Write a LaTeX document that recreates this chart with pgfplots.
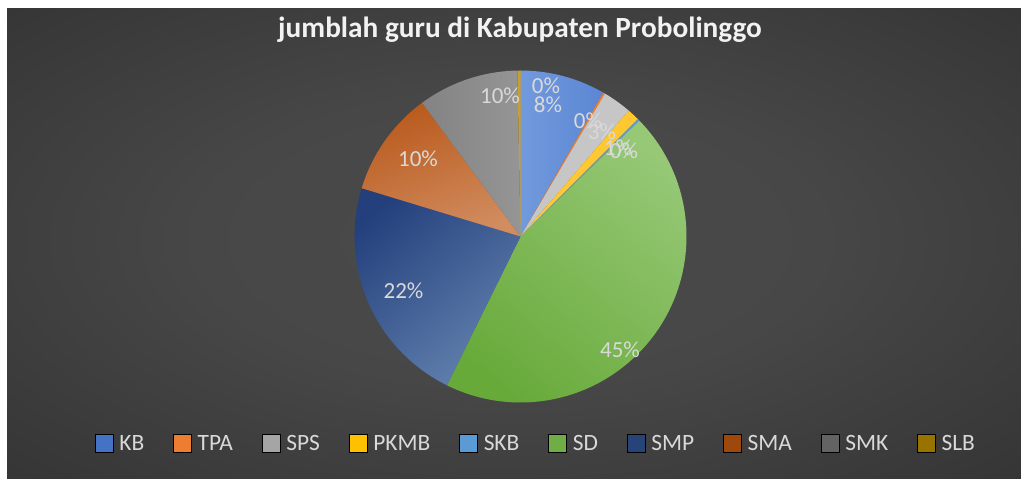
\documentclass[border=0pt]{standalone}
\usepackage{pgfplots}
\pgfplotsset{compat=1.18}
\usepackage{pgfplotstable}
\usepackage{fontspec}
\setmainfont{Carlito}

\definecolor{bgin}{HTML}{4A4A4A}
\definecolor{bgout}{HTML}{282828}
\pgfdeclareradialshading{bgshade}{\pgfpoint{0bp}{0bp}}{color(0bp)=(bgin); color(15bp)=(bgin!92!bgout); color(50bp)=(bgout); color(100bp)=(bgout)}

\definecolor{labc}{HTML}{D9D9D9}
\definecolor{titlec}{HTML}{F2F2F2}
% legend (base) colours
\definecolor{legKB}{HTML}{4472C4}
\definecolor{legTPA}{HTML}{ED7D31}
\definecolor{legSPS}{HTML}{A5A5A5}
\definecolor{legPKMB}{HTML}{FFC000}
\definecolor{legSKB}{HTML}{5B9BD5}
\definecolor{legSD}{HTML}{70AD47}
\definecolor{legSMP}{HTML}{264478}
\definecolor{legSMA}{HTML}{9E480E}
\definecolor{legSMK}{HTML}{636363}
\definecolor{legSLB}{HTML}{997300}
% slice colours
\definecolor{kbL}{HTML}{729ADD}
\definecolor{kbR}{HTML}{5A86D3}
\definecolor{spsC}{HTML}{C6C6C6}
\definecolor{pkC}{HTML}{FFC830}
\definecolor{sdL}{HTML}{96C876}
\definecolor{sdD}{HTML}{68AA3A}
\definecolor{smpD}{HTML}{233F7C}
\definecolor{smpL}{HTML}{6180AD}
\definecolor{smaD}{HTML}{B95A1D}
\definecolor{smaL}{HTML}{D18C5F}
\definecolor{smkL}{HTML}{959595}
\definecolor{smkD}{HTML}{838383}
\definecolor{slbC}{HTML}{C9A02E}

\tikzset{
  s0/.style={left color=kbL, right color=kbR},
  s1/.style={fill=legTPA},
  s2/.style={fill=spsC},
  s3/.style={fill=pkC},
  s4/.style={fill=legSKB},
  s5/.style={top color=sdL, middle color=sdL, bottom color=sdD, shading angle=-40},
  s6/.style={top color=smpD, middle color=smpL!90!smpD, bottom color=smpL, shading angle=40},
  s7/.style={top color=smaD, bottom color=smaL, shading angle=20},
  s8/.style={left color=smkD, right color=smkL},
  s9/.style={fill=slbC},
  lab/.style={font=\fontsize{23}{27}\selectfont, text=labc, inner sep=0pt},
}

\pgfplotstableread{
cat value
KB 8.3
TPA 0.2
SPS 2.8
PKMB 1.2
SKB 0.2
SD 44.6
SMP 22.4
SMA 10.2
SMK 9.8
SLB 0.3
}\pietable

\begin{document}
\begin{tikzpicture}
\fill[bgout] (0pt,-40pt) rectangle (1070pt,479pt);
\shade[shading=bgshade] (0pt,0pt) rectangle (1021pt,479pt);
\fill[white] (0pt,471pt) rectangle (1070pt,479pt);
\fill[white] (0pt,-40pt) rectangle (7pt,479pt);
\begin{axis}[
  x=1pt, y=1pt,
  xmin=0, xmax=1021, ymin=0, ymax=479,
  hide axis, clip=false,
  legend columns=10,
  legend cell align=left,
  legend image code/.code={\fill[#1] (0pt,-9pt) rectangle (18pt,9pt);},
  legend style={draw=none, fill=none, at={(95/1021,35.5/479)}, anchor=west,
    inner sep=0pt, outer sep=0pt,
    font=\fontsize{23.4}{28}\selectfont, text=labc,
    nodes={inner sep=0pt},
    /tikz/every odd column/.append style={column sep=6pt},
    /tikz/every even column/.append style={column sep=29pt}},
]
\def\startang{90}
\pgfplotsforeachungrouped \i in {0,...,9}{%
  \pgfplotstablegetelem{\i}{value}\of\pietable
  \pgfmathsetmacro\endang{\startang-3.6*\pgfplotsretval}%
  \edef\temp{\noexpand\path[s\i] (axis cs:520.5,242.5) -- ++(\startang:166pt) arc[start angle=\startang, end angle=\endang, radius=166pt] -- cycle;}%
  \temp
  \global\let\startang\endang
}
\addlegendimage{fill=legKB}\addlegendentry{KB}
\addlegendimage{fill=legTPA}\addlegendentry{TPA}
\addlegendimage{fill=legSPS}\addlegendentry{SPS}
\addlegendimage{fill=legPKMB}\addlegendentry{PKMB}
\addlegendimage{fill=legSKB}\addlegendentry{SKB}
\addlegendimage{fill=legSD}\addlegendentry{SD}
\addlegendimage{fill=legSMP}\addlegendentry{SMP}
\addlegendimage{fill=legSMA}\addlegendentry{SMA}
\addlegendimage{fill=legSMK}\addlegendentry{SMK}
\addlegendimage{fill=legSLB}\addlegendentry{SLB}

\node[font=\fontsize{29.3}{35}\selectfont\bfseries, text=titlec, anchor=base] at (axis cs:520,441) {jumblah guru di Kabupaten Probolinggo};

\node[lab] at (axis cs:546,393) {0\%};
\node[lab] at (axis cs:548,374) {8\%};
\node[lab] at (axis cs:588,358) {0\%};
\node[lab] at (axis cs:602,347) {3\%};
\node[lab] at (axis cs:618,331) {1\%};
\node[lab] at (axis cs:624,328) {0\%};
\node[lab] at (axis cs:620,129) {45\%};
\node[lab] at (axis cs:403.5,188.5) {22\%};
\node[lab] at (axis cs:418,320) {10\%};
\node[lab] at (axis cs:500,383) {10\%};
\end{axis}
\pgfresetboundingbox
\path[use as bounding box] (0pt,0pt) rectangle (1021pt,479pt);
\end{tikzpicture}
\end{document}
